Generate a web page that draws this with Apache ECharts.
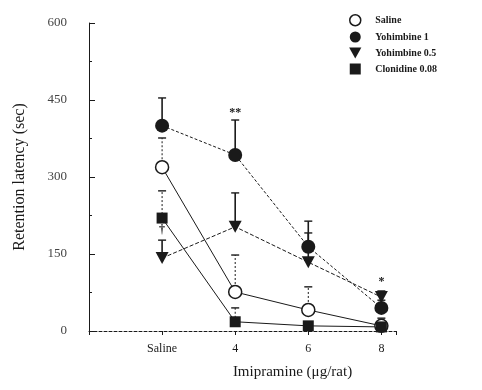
<!DOCTYPE html>
<html>
<head>
<meta charset="utf-8">
<script src="https://cdn.jsdelivr.net/npm/echarts@6/dist/echarts.min.js"></script>
<style>
  html, body { margin: 0; padding: 0; background: #fff; }
  #chart { width: 482px; height: 390px; }
</style>
</head>
<body>
<div id="chart"></div>
<script>
// x positions 1..4 stand for the doses
var doses = ['Saline', '4', '6', '8'];
var xPos = [1, 2, 3, 4];
var yTicks = [0, 150, 300, 450, 600];

var salineVals = [319, 76, 41, 10];
var salineErr = [57, 72, 45, 15];
var yoh1Vals = [400, 343, 164, 45];
var yoh1Err = [54, 68, 27, 15];
var yoh05Vals = [142, 203, 134, 66];
var yoh05Err = [35, 66, 80, 12];
var cloVals = [220, 18, 10, 8];
var cloErr = [53, 27, 0, 0];

// significance marks: x position, y value, text
var noteX = [2, 4, 1];
var noteY = [425, 95, 196];
var noteText = ['**', '*', '†'];

var FONT = 'Liberation Serif';
var INK = '#1a1a1a';
var DOWN_TRI = 'path://M0,0 L10,0 L5,9 Z';
var SQUARE = 'path://M0,0 L10,0 L10,10 L0,10 Z';

function pts(vals) {
    return vals.map(function (v, i) { return [xPos[i], v]; });
}
function errPts(vals, errs) {
    return vals.map(function (v, i) { return [xPos[i], v, v + errs[i]]; });
}

// upper error bars only
function errSeries(name, vals, errs, dashed) {
    return {
        name: name,
        type: 'custom',
        z: 1,
        itemStyle: { color: INK },
        renderItem: function (params, api) {
            var top = api.coord([api.value(0), api.value(2)]);
            var mid = api.coord([api.value(0), api.value(1)]);
            if (top[1] >= mid[1] - 0.5) return null;
            var st = { stroke: INK, lineWidth: dashed ? 1 : 1.6, lineDash: dashed ? [2, 2] : null };
            return {
                type: 'group',
                children: [
                    { type: 'line', shape: { x1: mid[0], y1: mid[1], x2: top[0], y2: top[1] }, style: st },
                    { type: 'line', shape: { x1: top[0] - 4, y1: top[1], x2: top[0] + 4, y2: top[1] }, style: { stroke: INK, lineWidth: 1.4 } }
                ]
            };
        },
        data: errPts(vals, errs)
    };
}

var chart = echarts.init(document.getElementById('chart'));

var option = {
    backgroundColor: '#fff',
    animation: false,
    color: [INK, INK, INK, INK],
    textStyle: { fontFamily: FONT },
    grid: { left: 89, right: 86, top: 23, bottom: 59 },
    legend: {
        orient: 'vertical',
        left: 344,
        top: 9,
        itemGap: 5,
        itemWidth: 18,
        itemHeight: 11,
        data: [
            { name: 'Saline', icon: 'circle', itemStyle: { color: '#fff', borderColor: INK, borderWidth: 1.5 } },
            { name: 'Yohimbine 1', icon: 'circle', itemStyle: { color: INK } },
            { name: 'Yohimbine 0.5', icon: DOWN_TRI, itemStyle: { color: INK } },
            { name: 'Clonidine 0.08', icon: SQUARE, itemStyle: { color: INK } }
        ],
        textStyle: { fontFamily: FONT, fontSize: 10, color: INK, fontWeight: 'bold', padding: [0, 0, 0, 6] }
    },
    xAxis: {
        type: 'value',
        min: 0,
        max: 4.2,
        interval: 1,
        name: 'Imipramine (μg/rat)',
        nameLocation: 'middle',
        nameGap: 34,
        nameTextStyle: { fontFamily: FONT, fontSize: 15, color: INK, padding: [0, 0, 0, 100] },
        axisLine: { lineStyle: { color: INK, width: 1, type: [3, 2] } },
        axisTick: { inside: false, length: 4, lineStyle: { color: INK } },
        splitLine: { show: false },
        axisLabel: {
            fontFamily: FONT, fontSize: 12, color: INK, margin: 12,
            formatter: function (v) {
                var i = xPos.indexOf(v);
                return i >= 0 ? doses[i] : '';
            }
        }
    },
    yAxis: {
        type: 'value',
        min: yTicks[0],
        max: yTicks[yTicks.length - 1],
        interval: 150,
        name: 'Retention latency (sec)',
        nameLocation: 'middle',
        nameGap: 61,
        nameTextStyle: { fontFamily: FONT, fontSize: 16, color: INK },
        axisLine: { show: true, lineStyle: { color: INK, width: 1 } },
        axisTick: { show: true, inside: true, length: 6, lineStyle: { color: INK } },
        minorTick: { show: true, splitNumber: 2, length: 3, lineStyle: { color: INK } },
        splitLine: { show: false },
        axisLabel: { fontFamily: FONT, fontSize: 13, color: '#444', margin: 22 }
    },
    series: [
        errSeries('Saline', salineVals, salineErr, true),
        errSeries('Yohimbine 1', yoh1Vals, yoh1Err, false),
        errSeries('Yohimbine 0.5', yoh05Vals, yoh05Err, false),
        errSeries('Clonidine 0.08', cloVals, cloErr, true),
        {
            name: 'Saline', type: 'line', z: 3,
            symbol: 'circle', symbolSize: 13,
            itemStyle: { color: '#fff', borderColor: INK, borderWidth: 1.5 },
            lineStyle: { color: INK, width: 1 },
            data: pts(salineVals)
        },
        {
            name: 'Yohimbine 1', type: 'line', z: 4,
            symbol: 'circle', symbolSize: 14,
            itemStyle: { color: INK },
            lineStyle: { color: INK, width: 1, type: [3, 2] },
            data: pts(yoh1Vals)
        },
        {
            name: 'Yohimbine 0.5', type: 'line', z: 3,
            symbol: DOWN_TRI, symbolSize: [13, 12],
            itemStyle: { color: INK },
            lineStyle: { color: INK, width: 1, type: [4, 2] },
            data: pts(yoh05Vals)
        },
        {
            name: 'Clonidine 0.08', type: 'line', z: 3,
            symbol: 'rect', symbolSize: 11,
            itemStyle: { color: INK },
            lineStyle: { color: INK, width: 1 },
            data: pts(cloVals)
        },
        {
            name: 'notes', type: 'custom', z: 5,
            renderItem: function (params, api) {
                var p = api.coord([api.value(0), api.value(1)]);
                return {
                    type: 'text',
                    style: {
                        x: p[0], y: p[1], text: noteText[params.dataIndex],
                        align: 'center', verticalAlign: 'middle',
                        font: 'bold 12px "Liberation Serif"', fill: INK
                    }
                };
            },
            data: noteX.map(function (x, i) { return [x, noteY[i]]; })
        }
    ]
};

chart.setOption(option);
</script>
</body>
</html>
